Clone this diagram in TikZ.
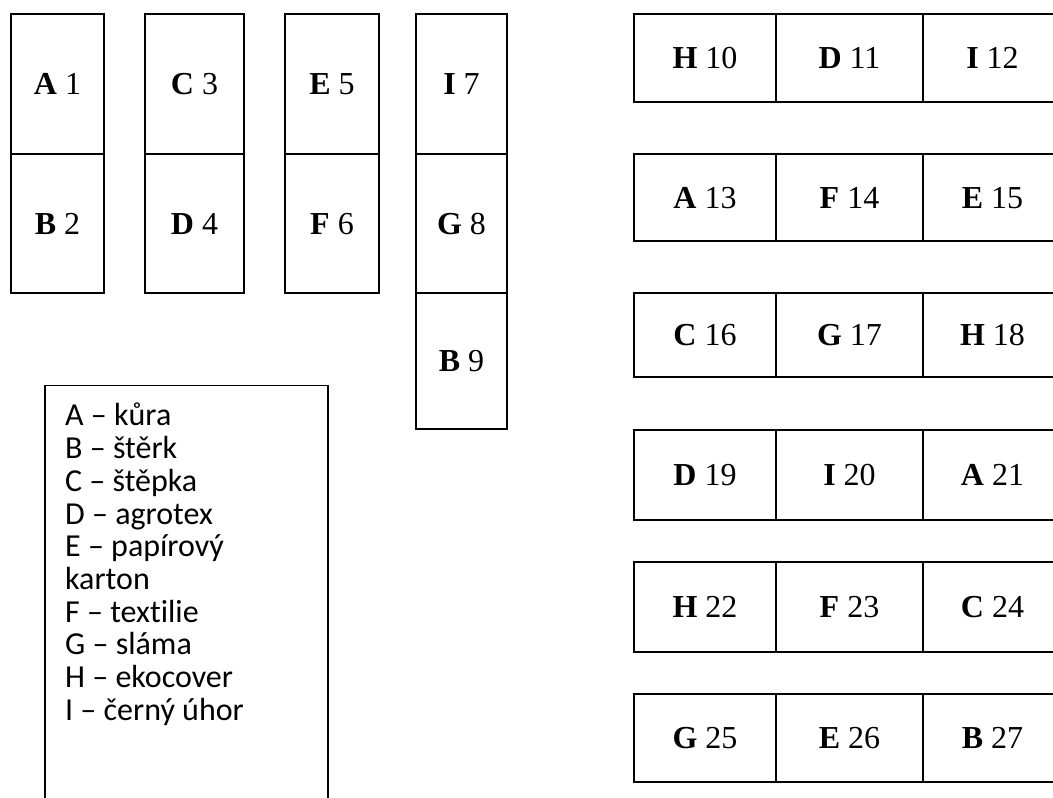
\documentclass[tikz,border=0pt]{standalone}
\usepackage{fontspec}
\setmainfont{Liberation Serif}
\newfontfamily\legfont[RawFeature=-liga]{Carlito}
\newcommand\mkcell[6]{%
  \node[cell, minimum width={(#4-#2)*1pt}, minimum height={(#5-#3)*1pt}]
    (#1) at ({(#2+#4)/2*1pt},{(798-(#3+#5)/2)*1pt}) {#6};}
\newcommand\lab[2]{\textbf{#1} #2}
\tikzset{
  cell/.style={draw, line width=1.5pt, inner sep=0pt, text height=22pt, text depth=0pt,
    font=\fontsize{32}{38}\selectfont},
  legline/.style={anchor=base west, inner sep=0pt, font=\legfont\fontsize{32}{36}\selectfont}
}
\begin{document}
\begin{tikzpicture}
\useasboundingbox (0,0) rectangle (1053pt,798pt);
\clip (0,0) rectangle (1053pt,798pt);
% left columns
\mkcell{c1}{11}{14}{104}{154}{\lab{A}{1}}
\mkcell{c2}{11}{154}{104}{293}{\lab{B}{2}}
\mkcell{c3}{145}{14}{244}{154}{\lab{C}{3}}
\mkcell{c4}{145}{154}{244}{293}{\lab{D}{4}}
\mkcell{c5}{285}{14}{379}{154}{\lab{E}{5}}
\mkcell{c6}{285}{154}{379}{293}{\lab{F}{6}}
\mkcell{c7}{416}{14}{507}{154}{\lab{I}{7}}
\mkcell{c8}{416}{154}{507}{293}{\lab{G}{8}}
\mkcell{c9}{416}{293}{507}{429}{\lab{B}{9}}
% right rows
\mkcell{c10}{634}{14}{776}{102}{\lab{H}{10}}
\mkcell{c11}{776}{14}{923}{102}{\lab{D}{11}}
\mkcell{c12}{923}{14}{1062}{102}{\lab{I}{12}}
\mkcell{c13}{634}{154}{776}{241}{\lab{A}{13}}
\mkcell{c14}{776}{154}{923}{241}{\lab{F}{14}}
\mkcell{c15}{923}{154}{1062}{241}{\lab{E}{15}}
\mkcell{c16}{634}{293}{776}{377}{\lab{C}{16}}
\mkcell{c17}{776}{293}{923}{377}{\lab{G}{17}}
\mkcell{c18}{923}{293}{1062}{377}{\lab{H}{18}}
\mkcell{c19}{634}{430}{776}{520}{\lab{D}{19}}
\mkcell{c20}{776}{430}{923}{520}{\lab{I}{20}}
\mkcell{c21}{923}{430}{1062}{520}{\lab{A}{21}}
\mkcell{c22}{634}{562}{776}{652}{\lab{H}{22}}
\mkcell{c23}{776}{562}{923}{652}{\lab{F}{23}}
\mkcell{c24}{923}{562}{1062}{652}{\lab{C}{24}}
\mkcell{c25}{634}{694}{776}{782}{\lab{G}{25}}
\mkcell{c26}{776}{694}{923}{782}{\lab{E}{26}}
\mkcell{c27}{923}{694}{1062}{782}{\lab{B}{27}}
% legend
\node[draw, line width=1.5pt, inner sep=0pt, anchor=north west,
      minimum width=283pt, minimum height=430pt] (legend) at (44pt,{(798-385)*1pt}) {};
\foreach \t [count=\i from 0] in {A – kůra, B – štěrk, C – štěpka, D – agrotex,
    E – papírový, karton, F – textilie, G – sláma, H – ekocover, I – černý úhor}
  \node[legline] (l\i) at (65pt,{(798-426-32.7*\i)*1pt}) {\t};
\end{tikzpicture}
\end{document}
